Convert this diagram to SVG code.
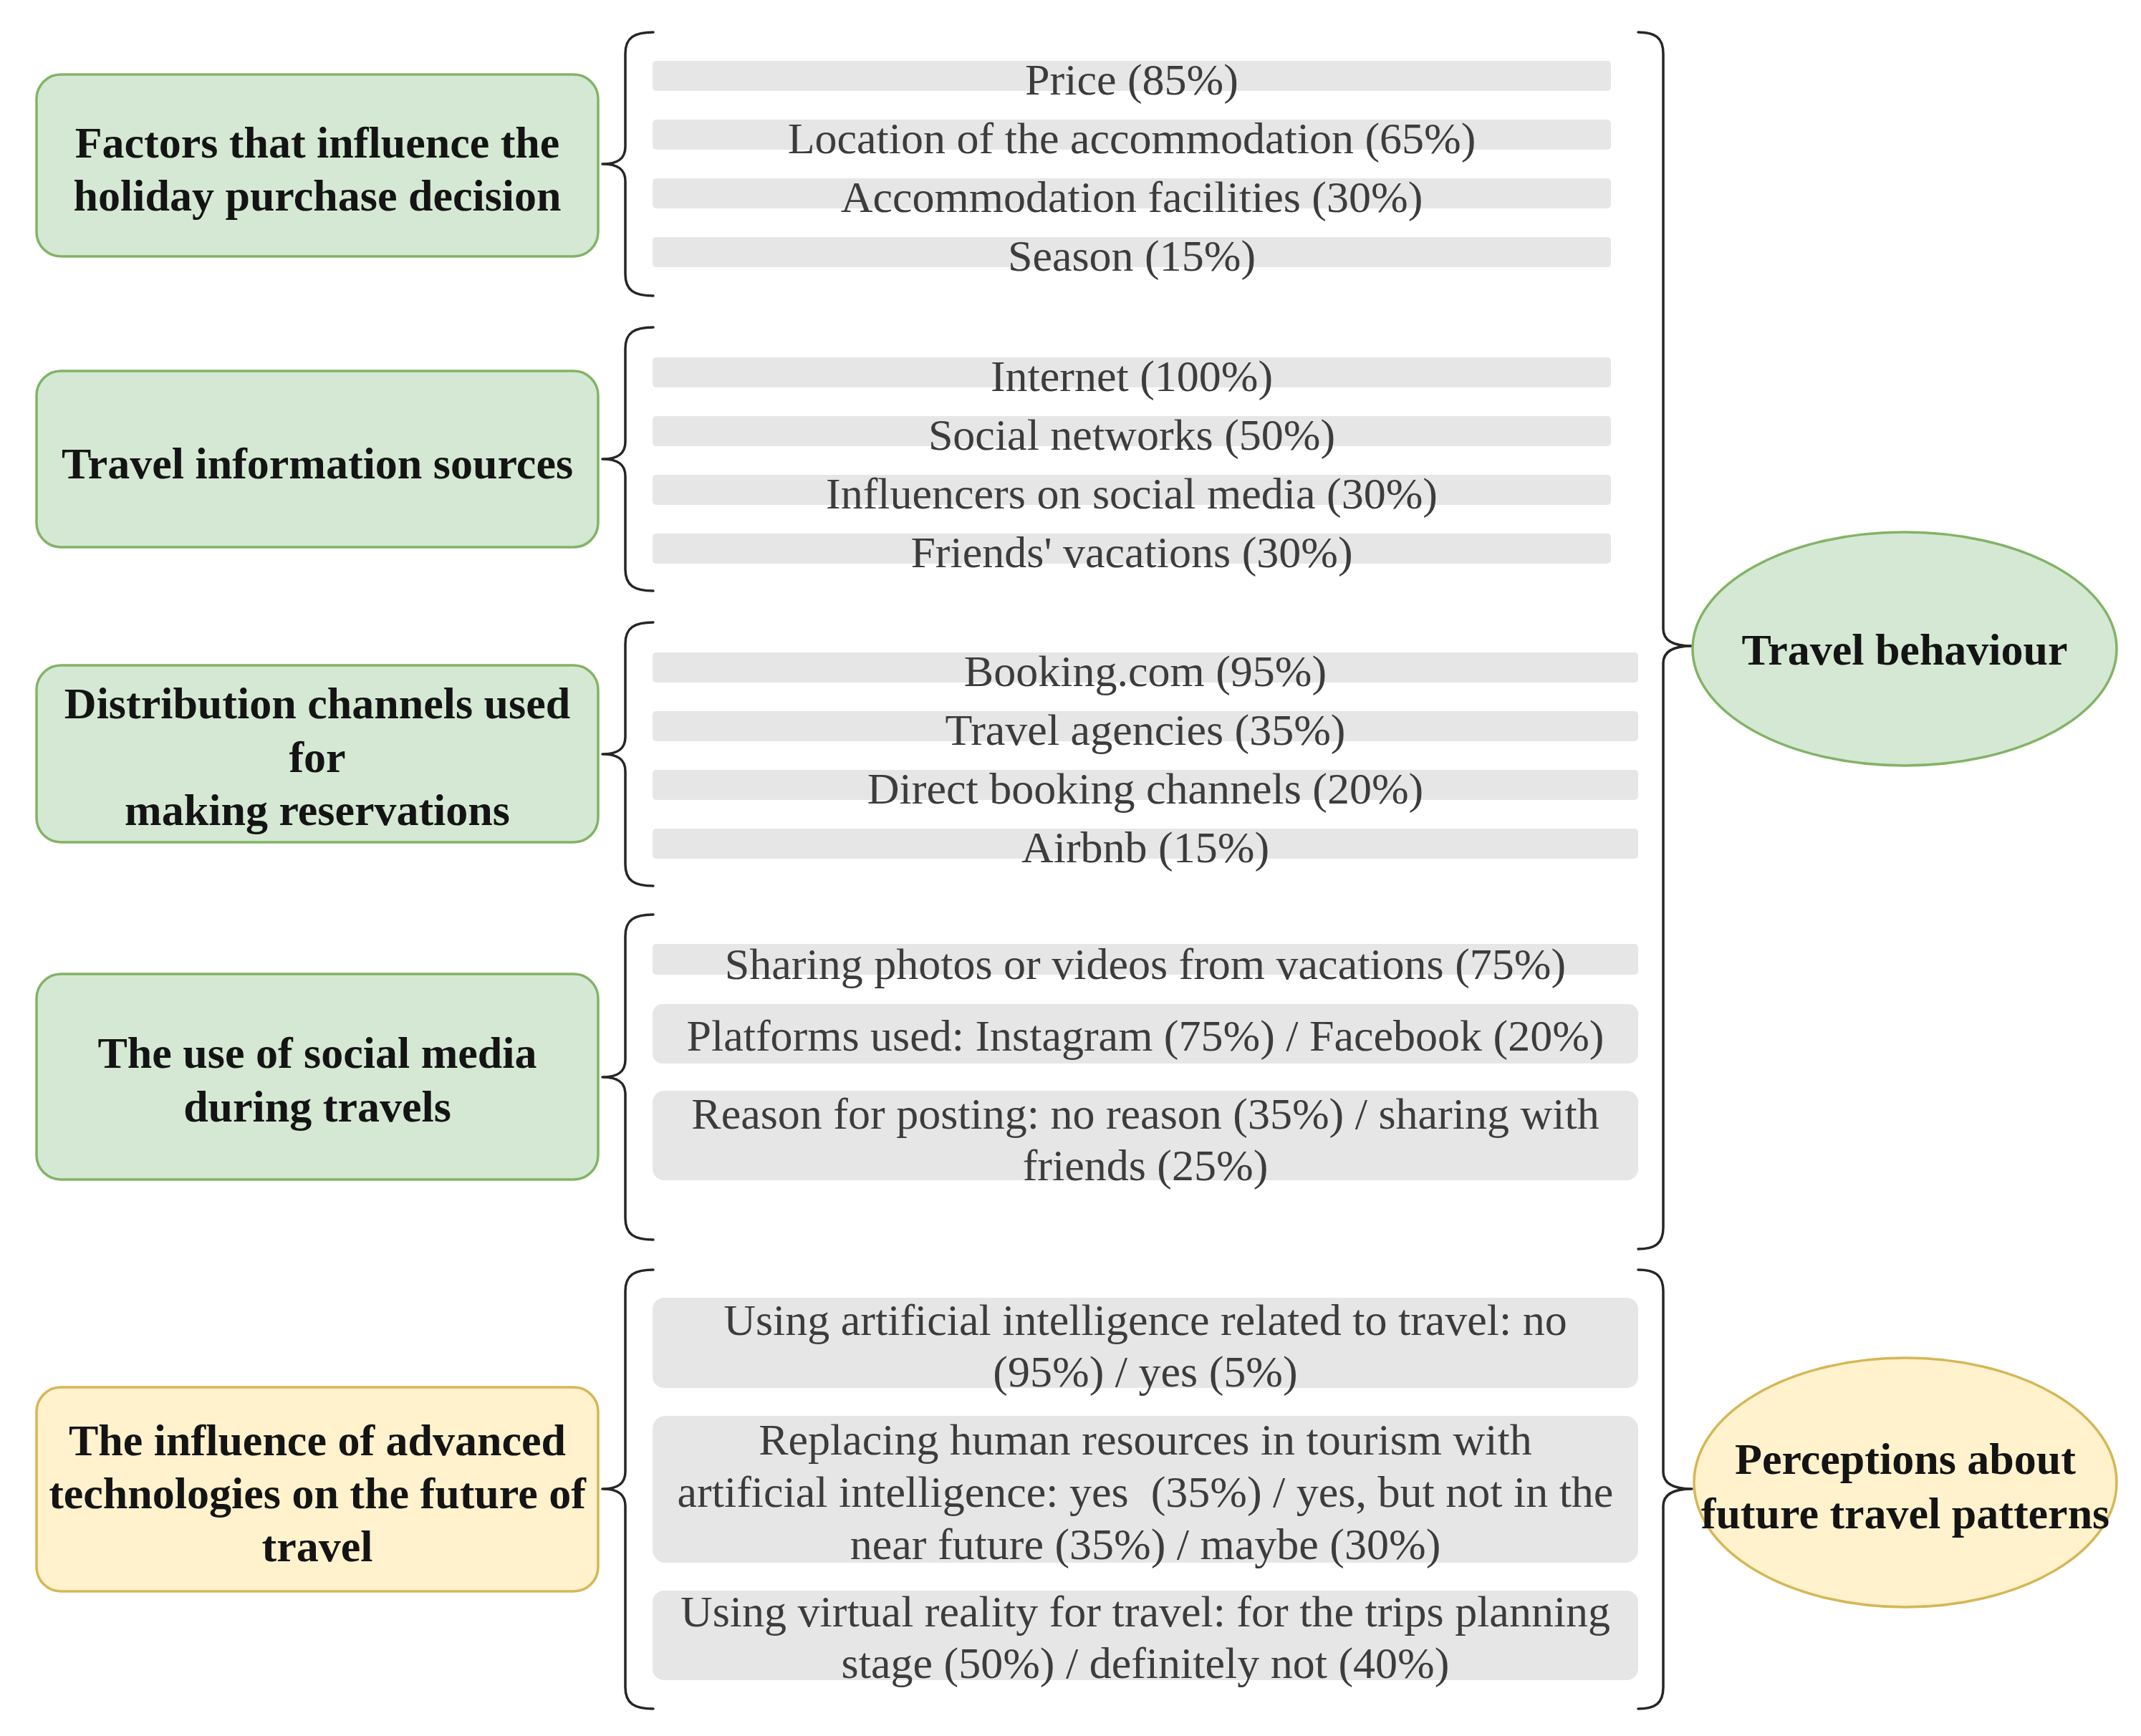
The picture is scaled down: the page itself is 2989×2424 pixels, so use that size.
<svg xmlns="http://www.w3.org/2000/svg" width="2989" height="2424" viewBox="0 0 2989 2424">
<style>
.bg{fill:#ffffff}
.gbox{fill:#d5e8d4;stroke:#82b366;stroke-width:3.5}
.ybox{fill:#fff2cc;stroke:#d6b656;stroke-width:3.5}
.bar{fill:#e6e6e6}
.brace{fill:none;stroke:#262626;stroke-width:3.5;stroke-linecap:round;stroke-linejoin:round}
.t{font-family:"Liberation Serif","Times New Roman",serif;font-size:62px;font-weight:bold;fill:#141414;text-anchor:middle}
.g{font-family:"Liberation Serif","Times New Roman",serif;font-size:62px;fill:#3c3c3c;text-anchor:middle}
</style>
<rect class="bg" x="0" y="0" width="2989" height="2424"/>

<g id="connectors">
<path class="brace" d="M912,45 C886,45 873,52 873,75 L873,205 C873,222 862,229 841,229 C862,229 873,236 873,253 L873,383 C873,406 886,413 912,413"/>
<path class="brace" d="M912,457 C886,457 873,464 873,487 L873,617 C873,634 862,641 841,641 C862,641 873,648 873,665 L873,795 C873,818 886,825 912,825"/>
<path class="brace" d="M912,869 C886,869 873,876 873,899 L873,1029 C873,1046 862,1053 841,1053 C862,1053 873,1060 873,1077 L873,1207 C873,1230 886,1237 912,1237"/>
<path class="brace" d="M912,1277 C886,1277 873,1284 873,1307 L873,1480 C873,1497 862,1504 841,1504 C862,1504 873,1511 873,1528 L873,1701 C873,1724 886,1731 912,1731"/>
<path class="brace" d="M912,1773 C886,1773 873,1780 873,1803 L873,2055 C873,2072 862,2079 841,2079 C862,2079 873,2086 873,2103 L873,2356 C873,2379 886,2386 912,2386"/>
<path class="brace" d="M2287,45 C2310,45 2322,52 2322,75 L2322,878 C2322,895 2338,902 2362,902 C2338,902 2322,909 2322,926 L2322,1714 C2322,1737 2310,1744 2287,1744"/>
<path class="brace" d="M2287,1773 C2310,1773 2322,1780 2322,1803 L2322,2055 C2322,2072 2338,2079 2362,2079 C2338,2079 2322,2086 2322,2103 L2322,2356 C2322,2379 2310,2386 2287,2386"/>
</g>

<g id="node-factors">
<rect class="gbox" x="51" y="104" width="784" height="254" rx="34"/>
<text class="t" x="443" y="220">Factors that influence the</text>
<text class="t" x="443" y="294">holiday purchase decision</text>
</g>
<g id="node-info">
<rect class="gbox" x="51" y="518" width="784" height="246" rx="34"/>
<text class="t" x="443" y="668">Travel information sources</text>
</g>
<g id="node-distribution">
<rect class="gbox" x="51" y="929" width="784" height="247" rx="34"/>
<text class="t" x="443" y="1003">Distribution channels used</text>
<text class="t" x="443" y="1078">for</text>
<text class="t" x="443" y="1152">making reservations</text>
</g>
<g id="node-social">
<rect class="gbox" x="51" y="1360" width="784" height="287" rx="34"/>
<text class="t" x="443" y="1491">The use of social media</text>
<text class="t" x="443" y="1566">during travels</text>
</g>
<g id="node-tech">
<rect class="ybox" x="51" y="1937" width="784" height="285" rx="34"/>
<text class="t" x="443" y="2032">The influence of advanced</text>
<text class="t" x="443" y="2106">technologies on the future of</text>
<text class="t" x="443" y="2180">travel</text>
</g>

<g id="items-factors">
<rect class="bar" x="911" y="85" width="1338" height="42" rx="5"/>
<rect class="bar" x="911" y="167" width="1338" height="42" rx="5"/>
<rect class="bar" x="911" y="249" width="1338" height="42" rx="5"/>
<rect class="bar" x="911" y="331" width="1338" height="42" rx="5"/>
<text class="g" x="1580" y="132">Price (85%)</text>
<text class="g" x="1580" y="214">Location of the accommodation (65%)</text>
<text class="g" x="1580" y="296">Accommodation facilities (30%)</text>
<text class="g" x="1580" y="378">Season (15%)</text>
</g>
<g id="items-info">
<rect class="bar" x="911" y="499" width="1338" height="42" rx="5"/>
<rect class="bar" x="911" y="581" width="1338" height="42" rx="5"/>
<rect class="bar" x="911" y="663" width="1338" height="42" rx="5"/>
<rect class="bar" x="911" y="745" width="1338" height="42" rx="5"/>
<text class="g" x="1580" y="546">Internet (100%)</text>
<text class="g" x="1580" y="628">Social networks (50%)</text>
<text class="g" x="1580" y="710">Influencers on social media (30%)</text>
<text class="g" x="1580" y="792">Friends' vacations (30%)</text>
</g>
<g id="items-distribution">
<rect class="bar" x="911" y="911" width="1376" height="42" rx="5"/>
<rect class="bar" x="911" y="993" width="1376" height="42" rx="5"/>
<rect class="bar" x="911" y="1075" width="1376" height="42" rx="5"/>
<rect class="bar" x="911" y="1157" width="1376" height="42" rx="5"/>
<text class="g" x="1599" y="958">Booking.com (95%)</text>
<text class="g" x="1599" y="1040">Travel agencies (35%)</text>
<text class="g" x="1599" y="1122">Direct booking channels (20%)</text>
<text class="g" x="1599" y="1204">Airbnb (15%)</text>
</g>
<g id="items-social">
<rect class="bar" x="911" y="1318" width="1376" height="43" rx="5"/>
<rect class="bar" x="911" y="1402" width="1376" height="83" rx="14"/>
<rect class="bar" x="911" y="1523" width="1376" height="125" rx="16"/>
<text class="g" x="1599" y="1367">Sharing photos or videos from vacations (75%)</text>
<text class="g" x="1599" y="1467">Platforms used: Instagram (75%) / Facebook (20%)</text>
<text class="g" x="1599" y="1576">Reason for posting: no reason (35%) / sharing with</text>
<text class="g" x="1599" y="1648">friends (25%)</text>
</g>
<g id="items-tech">
<rect class="bar" x="911" y="1812" width="1376" height="126" rx="16"/>
<rect class="bar" x="911" y="1977" width="1376" height="205" rx="18"/>
<rect class="bar" x="911" y="2221" width="1376" height="125" rx="16"/>
<text class="g" x="1599" y="1864">Using artificial intelligence related to travel: no</text>
<text class="g" x="1599" y="1936">(95%) / yes (5%)</text>
<text class="g" x="1599" y="2031">Replacing human resources in tourism with</text>
<text class="g" x="1599" y="2104" xml:space="preserve">artificial intelligence: yes  (35%) / yes, but not in the</text>
<text class="g" x="1599" y="2177">near future (35%) / maybe (30%)</text>
<text class="g" x="1599" y="2271">Using virtual reality for travel: for the trips planning</text>
<text class="g" x="1599" y="2343">stage (50%) / definitely not (40%)</text>
</g>

<g id="node-travel-behaviour">
<ellipse class="gbox" cx="2659" cy="906" rx="296" ry="163"/>
<text class="t" x="2659" y="928">Travel behaviour</text>
</g>
<g id="node-perceptions">
<ellipse class="ybox" cx="2660" cy="2070" rx="295" ry="174"/>
<text class="t" x="2660" y="2058">Perceptions about</text>
<text class="t" x="2660" y="2134">future travel patterns</text>
</g>
</svg>
